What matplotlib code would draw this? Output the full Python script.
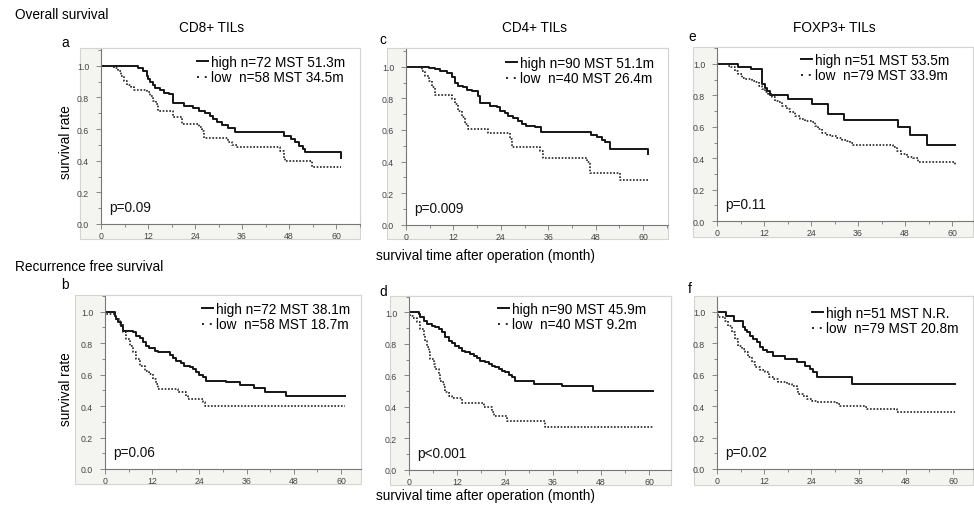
import matplotlib
matplotlib.use('Agg')
from matplotlib import pyplot as plt
from matplotlib.patches import Rectangle
from matplotlib.lines import Line2D
from matplotlib.ticker import MultipleLocator

plt.rcParams['font.family'] = ['Liberation Sans', 'DejaVu Sans']

W, H = 974, 510

# ---- Overall survival (months, survival rate after each step) ----
os_cd8_high_t = [0, 9.5, 10.6, 11.7, 12.1, 12.6, 13.2, 13.8, 15.0, 16.2, 17.4, 18.5, 21.3, 23.6, 24.9,
                 26.6, 27.8, 28.7, 29.5, 30.8, 32.5, 34.2, 46.8, 48.5, 49.5, 50.6, 51.7, 52.1, 61.3]
os_cd8_high_s = [1.0, 0.983, 0.967, 0.937, 0.915, 0.895, 0.875, 0.858, 0.845, 0.83, 0.82, 0.762, 0.747, 0.733, 0.716,
                 0.699, 0.684, 0.663, 0.642, 0.627, 0.606, 0.579, 0.558, 0.537, 0.516, 0.495, 0.474, 0.453, 0.417]
os_cd8_low_t = [0, 3.4, 4.3, 5.0, 5.8, 6.6, 7.6, 8.4, 11.7, 12.4, 13.4, 14.0, 14.6, 18.3, 20.8, 24.9,
                25.7, 26.4, 32.3, 33.4, 34.6, 45.8, 46.6, 47.0, 53.9, 61.3]
os_cd8_low_s = [1.0, 0.985, 0.968, 0.937, 0.905, 0.88, 0.863, 0.845, 0.832, 0.811, 0.779, 0.758, 0.712, 0.674, 0.632, 0.61,
                0.585, 0.543, 0.52, 0.5, 0.484, 0.463, 0.42, 0.4, 0.358, 0.358]

os_cd4_high_t = [0, 5.7, 7.3, 8.6, 10.3, 11.6, 12.4, 13.2, 14.5, 15.4, 16.6, 18.3, 18.7, 21.3, 23.0, 23.8, 25.1,
                 25.9, 27.2, 28.4, 29.3, 30.5, 32.7, 34.3, 46.8, 48.3, 49.5, 50.4, 51.6, 61.3]
os_cd4_high_s = [1.0, 0.992, 0.985, 0.975, 0.958, 0.932, 0.9, 0.88, 0.869, 0.852, 0.844, 0.816, 0.768, 0.753, 0.743,
                 0.722, 0.705, 0.69, 0.675, 0.658, 0.637, 0.627, 0.616, 0.584, 0.57, 0.553, 0.536, 0.521, 0.479, 0.447]
os_cd4_low_t = [0, 4.0, 4.8, 5.7, 6.5, 7.3, 11.6, 12.4, 13.2, 14.1, 14.9, 15.8, 20.8, 26.3, 26.8, 33.9, 34.8,
                45.7, 46.6, 54.2, 61.3]
os_cd4_low_s = [1.0, 0.975, 0.943, 0.911, 0.869, 0.823, 0.795, 0.764, 0.722, 0.68, 0.637, 0.605, 0.578, 0.542, 0.494,
                0.468, 0.422, 0.395, 0.327, 0.283, 0.283]

os_foxp3_high_t = [0, 5.4, 8.8, 11.4, 12.3, 12.7, 13.5, 18.0, 24.2, 28.4, 32.3, 46.3, 49.4, 53.5, 60.8]
os_foxp3_high_s = [1.0, 0.981, 0.966, 0.875, 0.85, 0.828, 0.803, 0.779, 0.747, 0.682, 0.644, 0.599, 0.547, 0.482, 0.482]
os_foxp3_low_t = [0, 2.9, 3.7, 4.6, 5.4, 6.3, 7.1, 8.9, 9.7, 10.6, 11.4, 12.3, 13.1, 14.0, 14.8, 15.7, 16.5, 17.8,
                  18.6, 19.9, 21.2, 22.5, 24.2, 25.0, 25.9, 26.7, 28.0, 29.3, 30.6, 31.8, 33.1, 34.0, 34.8, 45.0,
                  45.9, 47.1, 48.4, 50.1, 51.4, 60.8]
os_foxp3_low_s = [1.0, 0.99, 0.979, 0.958, 0.936, 0.911, 0.904, 0.894, 0.883, 0.862, 0.841, 0.82, 0.809, 0.788, 0.766,
                  0.756, 0.735, 0.713, 0.692, 0.671, 0.65, 0.639, 0.628, 0.607, 0.586, 0.558, 0.548, 0.544, 0.529,
                  0.516, 0.507, 0.495, 0.486, 0.469, 0.448, 0.427, 0.41, 0.401, 0.374, 0.352]

# ---- Recurrence free survival ----
rfs_cd8_high_t = [0, 2.5, 2.9, 3.3, 4.1, 4.6, 7.1, 8.0, 8.8, 9.7, 10.5, 11.3, 12.6, 13.5, 16.4, 17.3, 18.1, 19.4,
                  20.2, 21.5, 22.4, 23.2, 24.0, 24.9, 25.7, 30.8, 34.2, 38.0, 40.6, 46.1, 60.9]
rfs_cd8_high_s = [1.0, 0.975, 0.953, 0.932, 0.911, 0.879, 0.869, 0.847, 0.831, 0.805, 0.784, 0.767, 0.752, 0.746,
                  0.725, 0.703, 0.689, 0.674, 0.657, 0.646, 0.636, 0.619, 0.597, 0.583, 0.561, 0.551, 0.534, 0.513,
                  0.492, 0.462, 0.462]
rfs_cd8_low_t = [0, 0.3, 2.5, 2.9, 3.7, 4.6, 5.4, 6.3, 7.1, 8.0, 8.8, 10.1, 11.3, 12.2, 13.0, 13.5, 18.5, 20.7,
                 21.1, 24.9, 25.3, 60.9]
rfs_cd8_low_s = [1.0, 0.985, 0.975, 0.953, 0.922, 0.869, 0.826, 0.784, 0.742, 0.699, 0.657, 0.625, 0.604, 0.572,
                 0.54, 0.508, 0.487, 0.466, 0.445, 0.424, 0.398, 0.398]

rfs_cd4_high_t = [0, 2.4, 2.8, 3.7, 4.5, 5.75, 6.6, 7.4, 8.25, 9.1, 9.9, 10.75, 11.6, 12.4, 13.25, 14.1, 15.3, 16.2,
                  17.0, 17.8, 19.1, 19.9, 20.75, 21.6, 22.4, 23.25, 24.1, 24.9, 25.75, 26.6, 31.2, 38.25, 45.9, 60.9]
rfs_cd4_high_s = [1.0, 0.989, 0.968, 0.947, 0.926, 0.915, 0.905, 0.894, 0.873, 0.841, 0.82, 0.805, 0.788, 0.771,
                  0.756, 0.746, 0.735, 0.725, 0.708, 0.693, 0.682, 0.672, 0.661, 0.65, 0.64, 0.629, 0.619, 0.602,
                  0.587, 0.566, 0.544, 0.53, 0.5, 0.5]
rfs_cd4_low_t = [0, 0.3, 1.0, 2.0, 2.8, 3.7, 4.1, 4.5, 4.9, 5.3, 6.2, 6.6, 7.4, 7.8, 8.25, 8.7, 9.1, 9.9, 10.75,
                 13.25, 18.7, 20.75, 21.2, 24.5, 34.1, 60.9]
rfs_cd4_low_s = [1.0, 0.975, 0.962, 0.936, 0.894, 0.852, 0.82, 0.778, 0.746, 0.703, 0.672, 0.64, 0.608, 0.566,
                 0.555, 0.523, 0.492, 0.47, 0.453, 0.424, 0.396, 0.364, 0.339, 0.311, 0.269, 0.269]

rfs_foxp3_high_t = [0, 2.3, 4.2, 6.7, 7.1, 7.7, 8.4, 9.2, 10.1, 10.9, 11.8, 12.6, 14.3, 17.3, 20.3, 22.4, 23.6,
                    24.5, 25.3, 34.2, 60.5]
rfs_foxp3_high_s = [1.0, 0.975, 0.943, 0.9, 0.885, 0.869, 0.847, 0.826, 0.805, 0.773, 0.755, 0.742, 0.72, 0.699,
                    0.678, 0.657, 0.636, 0.615, 0.583, 0.54, 0.54]
rfs_foxp3_low_t = [0, 0.2, 2.0, 2.9, 3.7, 4.6, 5.4, 6.3, 7.1, 8.0, 8.8, 9.7, 10.9, 12.2, 13.1, 14.3, 15.6, 17.7,
                   19.0, 20.3, 20.7, 21.9, 22.8, 24.1, 25.3, 30.4, 31.3, 37.6, 38.1, 45.7, 60.5]
rfs_foxp3_low_s = [1.0, 0.964, 0.943, 0.911, 0.869, 0.826, 0.784, 0.763, 0.742, 0.71, 0.678, 0.646, 0.631, 0.614,
                   0.583, 0.572, 0.551, 0.54, 0.525, 0.508, 0.477, 0.466, 0.445, 0.434, 0.424, 0.413, 0.403, 0.392,
                   0.381, 0.36, 0.36]

legend_high = ['high n=72 MST 51.3m', 'high n=90 MST 51.1m', 'high n=51 MST 53.5m',
               'high n=72 MST 38.1m', 'high n=90 MST 45.9m', 'high n=51 MST N.R.']
legend_low = ['low  n=58 MST 34.5m', 'low  n=40 MST 26.4m', 'low  n=79 MST 33.9m',
              'low  n=58 MST 18.7m', 'low  n=40 MST 9.2m', 'low  n=79 MST 20.8m']
p_values = ['p=0.09', 'p=0.009', 'p=0.11', 'p=0.06', 'p<0.001', 'p=0.02']
panel_letters = ['a', 'c', 'e', 'b', 'd', 'f']
titles = ['CD8+ TILs', 'CD4+ TILs', 'FOXP3+ TILs']

# pixel layout: x0, x60, y0, y1, right, top, gray_left, gray_bottom, legend_x, legend_y
boxes = [
    (101, 336, 225, 66.7, 360, 49, 80, 240, 197, 56),
    (406, 643, 225.7, 67.7, 668, 49, 387, 240, 506, 57),
    (717, 952, 222, 65, 973, 48, 693, 238, 801, 54),
    (105, 341, 470, 312.7, 361, 296, 75, 485, 202, 303),
    (409, 649, 470.7, 313.3, 671, 297, 390, 486, 498, 303),
    (717, 953, 470, 312.7, 973, 297, 694, 486, 812, 307),
]
letter_pos = [(65, 43), (383, 40), (692, 37), (65, 285), (383, 292), (690, 289)]

curves = [
    (os_cd8_high_t, os_cd8_high_s, os_cd8_low_t, os_cd8_low_s),
    (os_cd4_high_t, os_cd4_high_s, os_cd4_low_t, os_cd4_low_s),
    (os_foxp3_high_t, os_foxp3_high_s, os_foxp3_low_t, os_foxp3_low_s),
    (rfs_cd8_high_t, rfs_cd8_high_s, rfs_cd8_low_t, rfs_cd8_low_s),
    (rfs_cd4_high_t, rfs_cd4_high_s, rfs_cd4_low_t, rfs_cd4_low_s),
    (rfs_foxp3_high_t, rfs_foxp3_high_s, rfs_foxp3_low_t, rfs_foxp3_low_s),
]

FS = 9.8
DOT = (0, (1, 1))


def fx(x):
    return x / W


def fy(y):
    return 1 - y / H


def draw_panel(fig, box, data, hi_label, lo_label, pval):
    x0, x60, y0, y1, right, top, gl, gb, lx, ly = box
    hi_t, hi_s, lo_t, lo_s = data
    rect = Rectangle((fx(gl), fy(gb)), (right - gl) / W, (gb - top) / H, transform=fig.transFigure,
                     facecolor='#f4f4f1', edgecolor='#d4d4d0', lw=0.8, zorder=-1)
    fig.add_artist(rect)
    ax = fig.add_axes([fx(x0), fy(y0), (right - x0) / W, (y0 - top) / H])
    ax.set_facecolor('white')
    ppm = (x60 - x0) / 60.0
    ax.set_xlim(0, (right - x0) / ppm)
    ax.set_ylim(0, (y0 - top) / (y0 - y1))
    ax.step(hi_t, hi_s, where='post', color='#151515', lw=1.4)
    ax.step(lo_t, lo_s, where='post', color='#222222', lw=1.2, linestyle=DOT)
    ax.xaxis.set_minor_locator(MultipleLocator(6))
    ax.yaxis.set_minor_locator(MultipleLocator(0.1))
    ax.set_xticks([0, 12, 24, 36, 48, 60])
    ax.set_yticks([0.0, 0.2, 0.4, 0.6, 0.8, 1.0])
    ax.set_yticklabels(['0.0', '0.2', '0.4', '0.6', '0.8', '1.0'])
    ax.tick_params(which='both', direction='out', color='#777777', width=0.6, labelsize=6.3,
                   labelcolor='#444444')
    ax.tick_params(which='major', length=3.5)
    ax.tick_params(which='minor', length=2)
    ax.tick_params(axis='y', pad=5)
    ax.tick_params(axis='x', pad=1.5)
    for side in ['top', 'right']:
        ax.spines[side].set_color('#d4d4d0')
        ax.spines[side].set_linewidth(0.8)
    for side in ['left', 'bottom']:
        ax.spines[side].set_color('#777777')
        ax.spines[side].set_linewidth(0.8)
    handles = [Line2D([], [], color='#151515', lw=1.4),
               Line2D([], [], color='#222222', lw=1.4, linestyle=(0, (1, 3)))]
    ax.legend(handles, [hi_label, lo_label], loc='upper left',
              bbox_to_anchor=((lx - x0) / (right - x0), 1 - (ly - top) / (y0 - top)),
              frameon=False, fontsize=FS, handlelength=0.8, handletextpad=0.2,
              borderpad=0, borderaxespad=0, labelspacing=0.1)
    ax.text(2.0, 0.08, pval, fontsize=FS, va='baseline', ha='left', color='#111111')
    return ax


def main():
    fig = plt.figure(figsize=(W / 100.0, H / 100.0), dpi=100)
    fig.patch.set_facecolor('white')
    for i in range(6):
        draw_panel(fig, boxes[i], curves[i], legend_high[i], legend_low[i], p_values[i])
        lx, ly = letter_pos[i]
        fig.text(fx(lx), fy(ly), panel_letters[i], fontsize=FS, ha='center', va='center')

    fig.text(fx(15), fy(15), 'Overall survival', fontsize=FS, ha='left', va='center')
    fig.text(fx(15), fy(267), 'Recurrence free survival', fontsize=FS, ha='left', va='center')
    for title, cx in zip(titles, [212, 535, 834]):
        fig.text(fx(cx), fy(28), title, fontsize=FS, ha='center', va='center')
    for cy in [142, 389]:
        fig.text(fx(66), fy(cy), 'survival rate', fontsize=FS, ha='center', va='center', rotation=90)
    for cy in [256, 496]:
        fig.text(fx(486), fy(cy), 'survival time after operation (month)', fontsize=FS,
                 ha='center', va='center')

    fig.savefig('out.png', dpi=100, facecolor='white')


if __name__ == '__main__':
    main()
